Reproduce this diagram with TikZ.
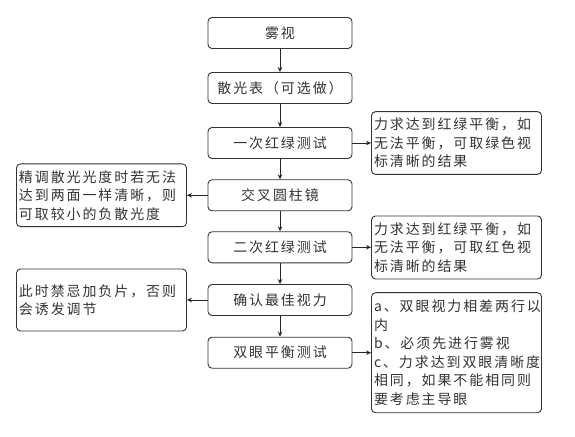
\documentclass[tikz,border=0pt]{standalone}
\usepackage{fontspec}
\setmainfont{Noto Sans CJK SC}
\newfontfamily\cjkfont[LetterSpace=14]{Noto Sans CJK SC}
\usetikzlibrary{arrows.meta}
\begin{document}
\begin{tikzpicture}[x=1bp,y=-1bp,
  box/.style={draw=black!80,line width=0.9bp,rounded corners=4bp,inner sep=0pt,
    font=\cjkfont\fontsize{14}{18.5}\selectfont,text=black!80},
  mainbox/.style={box,minimum width=144bp,minimum height=31bp,align=center},
  note/.style={box,minimum width=169bp,text width=165bp,align=left,inner xsep=2.5bp},
  arr/.style={draw=black!85,line width=0.9bp,-{Stealth[length=5bp,width=4.5bp]}}]
\useasboundingbox (0,0) rectangle (575,437);
\fill[white] (0,0) rectangle (575,437);
\node[mainbox] (m1) at (280,33) {雾视};
\node[mainbox] (m2) at (280,88) {散光表（可选做）};
\node[mainbox] (m3) at (280,143) {一次红绿测试};
\node[mainbox] (m4) at (280,195.3) {交叉圆柱镜};
\node[mainbox] (m5) at (280,247.3) {二次红绿测试};
\node[mainbox] (m6) at (280,300) {确认最佳视力};
\node[mainbox] (m7) at (280,352.7) {双眼平衡测试};
\node[note,minimum height=62.7bp] (r1) at (456.5,143) {力求达到红绿平衡，如\\无法平衡，可取绿色视\\标清晰的结果};
\node[note,minimum height=63bp] (r2) at (456.5,247.5) {力求达到红绿平衡，如\\无法平衡，可取红色视\\标清晰的结果};
\node[note,minimum height=120bp] (r3) at (456.5,352.7) {a、双眼视力相差两行以\\内\\b、必须先进行雾视\\c、力求达到双眼清晰度\\相同，如果不能相同则\\要考虑主导眼};
\node[note,minimum height=62.7bp] (l1) at (101.5,195.3) {精调散光光度时若无法\\达到两面一样清晰，则\\可取较小的负散光度};
\node[note,minimum height=62bp] (l2) at (101.5,300) {此时禁忌加负片，否则\\会诱发调节};
\draw[arr] (m1) -- (m2);
\draw[arr] (m2) -- (m3);
\draw[arr] (m3) -- (m4);
\draw[arr] (m4) -- (m5);
\draw[arr] (m5) -- (m6);
\draw[arr] (m6) -- (m7);
\draw[arr] (m3.east) -- (m3.east -| r1.west);
\draw[arr] (m5.east) -- (m5.east -| r2.west);
\draw[arr] (m7.east) -- (m7.east -| r3.west);
\draw[arr] (m4.west) -- (m4.west -| l1.east);
\draw[arr] (m6.west) -- (m6.west -| l2.east);
\end{tikzpicture}
\end{document}
